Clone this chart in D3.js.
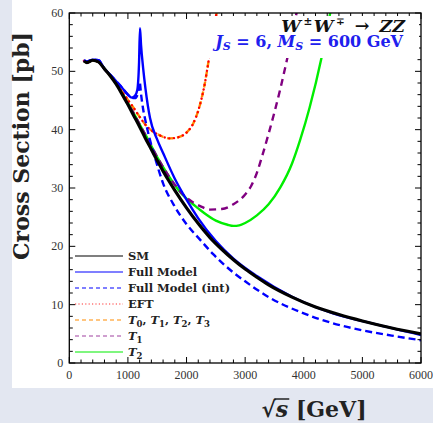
<!DOCTYPE html>
<html>
<head>
<meta charset="utf-8">
<script src="https://cdn.jsdelivr.net/npm/d3@7"></script>
<style>
  html, body { margin: 0; padding: 0; background: #e3e7f1; }
  svg { display: block; }
</style>
</head>
<body>
<svg id="chart" width="433" height="423"></svg>
<script>
// Cross section vs sqrt(s) for W±W∓ → ZZ, spin-6 resonance at 600 GeV

const xTicks = [0, 1000, 2000, 3000, 4000, 5000, 6000];
const yTicks = [0, 10, 20, 30, 40, 50, 60];

// Standard Model
const smX = [250, 300, 400, 500, 600, 700, 800, 900, 1000, 1100, 1200, 1300, 1400, 1500, 1600, 1700, 1800, 2000, 2200, 2400, 2600, 2800, 3000, 3200, 3400, 3800, 4200, 4600, 5000, 5500, 6000];
const smY = [51.8, 51.5, 51.9, 51.6, 50.4, 49.2, 47.8, 46.1, 44.3, 42.4, 40.5, 38.5, 36.6, 34.7, 32.9, 31.2, 29.6, 26.6, 23.9, 21.5, 19.5, 17.7, 16.1, 14.7, 13.4, 11.3, 9.6, 8.3, 7.2, 6.0, 5.0];

// Full model
const fullX = [250, 300, 400, 500, 600, 700, 800, 900, 1000, 1065, 1120, 1160, 1190, 1206, 1224, 1260, 1300, 1377, 1500, 1600, 1800, 2000, 2200, 2500, 2800, 3200, 3800, 4500, 5200, 6000];
const fullY = [51.9, 51.7, 52.0, 51.9, 50.4, 49.4, 48.3, 47.2, 46.0, 45.5, 45.8, 46.8, 51.5, 57.4, 54.5, 50.5, 47.0, 42.0, 38.3, 36.0, 31.6, 28.0, 24.8, 20.9, 17.9, 14.9, 11.35, 8.5, 6.7, 4.8];

// Full model, interference only
const intX = [250, 300, 400, 500, 600, 700, 800, 900, 1000, 1065, 1120, 1170, 1200, 1225, 1260, 1300, 1377, 1450, 1600, 1800, 2000, 2234, 2450, 2800, 3000, 3400, 4000, 4500, 5000, 5500, 6000];
const intY = [51.9, 51.7, 52.0, 51.9, 50.4, 49.4, 48.3, 47.2, 46.0, 45.5, 45.4, 46.2, 48.2, 46.0, 43.5, 41.5, 38.2, 35.6, 30.8, 26.8, 23.8, 21.1, 18.7, 15.5, 14.0, 11.3, 8.5, 6.8, 5.6, 4.7, 3.9];

// Effective field theory (shared by the T0..T3 curve)
const eftX = [250, 300, 400, 500, 600, 700, 800, 900, 1000, 1100, 1200, 1321, 1400, 1548, 1720, 1889, 2000, 2116, 2230, 2300, 2390, 2450, 2520];
const eftY = [51.8, 51.5, 51.9, 51.6, 50.4, 49.2, 47.9, 46.5, 45.1, 43.7, 42.2, 40.6, 39.9, 39.0, 38.5, 38.8, 39.5, 41.1, 44.3, 47.3, 52.6, 56.2, 60.5];

// T1 only
const t1X = [250, 300, 400, 500, 600, 700, 800, 900, 1000, 1100, 1200, 1300, 1500, 1700, 1900, 2100, 2234, 2400, 2600, 2800, 3000, 3100, 3200, 3300, 3400, 3500, 3600, 3700, 3800, 3880];
const t1Y = [51.8, 51.5, 51.9, 51.6, 50.5, 49.3, 47.9, 46.3, 44.6, 42.8, 40.9, 39.1, 35.3, 32.0, 29.3, 27.6, 26.9, 26.3, 26.4, 27.2, 28.9, 30.3, 32.6, 35.8, 39.3, 43.0, 47.0, 51.4, 56.0, 60.2];

// T2 only
const t2X = [250, 300, 400, 500, 600, 700, 800, 900, 1000, 1100, 1200, 1300, 1500, 1700, 1900, 2100, 2200, 2300, 2500, 2700, 2800, 2900, 3000, 3200, 3400, 3600, 3800, 3937, 4100, 4300, 4460];
const t2Y = [51.8, 51.5, 51.9, 51.6, 50.5, 49.3, 47.9, 46.3, 44.6, 42.8, 40.9, 39.1, 35.3, 32.0, 29.2, 27.3, 26.5, 25.7, 24.4, 23.7, 23.5, 23.6, 24.0, 25.3, 27.2, 30.1, 34.2, 38.2, 43.8, 52.2, 60.5];

const svg = d3.select("#chart");
const W = 433, H = 423;
const plot = { left: 69.3, right: 421, top: 13, bottom: 363 };

// white panel
svg.append("rect").attr("x", 12).attr("y", 0).attr("width", W - 12).attr("height", 388).attr("fill", "#ffffff");

const x = d3.scaleLinear().domain([0, 6000]).range([plot.left, plot.right]);
const y = d3.scaleLinear().domain([0, 60]).range([plot.bottom, plot.top]);

const serif = "'Liberation Serif', 'DejaVu Serif', serif";
const wide = "'DejaVu Serif', serif";

svg.append("clipPath").attr("id", "clip")
  .append("rect").attr("x", plot.left).attr("y", plot.top)
  .attr("width", plot.right - plot.left).attr("height", plot.bottom - plot.top);

const g = svg.append("g").attr("clip-path", "url(#clip)");

const line = d3.line().x(d => x(d[0])).y(d => y(d[1])).curve(d3.curveMonotoneX);
const pts = (xs, ys) => xs.map((v, i) => [v, ys[i]]);

const series = [
  { xs: t2X, ys: t2Y, color: "#00ee00", width: 2.4, dash: null },
  { xs: t1X, ys: t1Y, color: "#800080", width: 2.4, dash: "7,5" },
  { xs: eftX, ys: eftY, color: "#ff8c00", width: 2.4, dash: "6,4" },
  { xs: eftX, ys: eftY, color: "#ff0000", width: 2.4, dash: "0.1,4.6", cap: "round" },
  { xs: intX, ys: intY, color: "#0000ff", width: 2.4, dash: "7,4" },
  { xs: fullX, ys: fullY, color: "#0000ff", width: 2.4, dash: null },
  { xs: smX, ys: smY, color: "#000000", width: 3.2, dash: null }
];

series.forEach(s => {
  g.append("path")
    .datum(pts(s.xs, s.ys))
    .attr("d", line)
    .attr("fill", "none")
    .attr("stroke", s.color)
    .attr("stroke-width", s.width)
    .attr("stroke-dasharray", s.dash)
    .attr("stroke-linecap", s.cap || "butt")
    .attr("stroke-linejoin", "round");
});

// frame with inward ticks on all sides
const frame = svg.append("g");
const xMinor = d3.range(0, 6001, 200);
const yMinor = d3.range(0, 61, 2);
xMinor.forEach(v => {
  const len = v % 1000 === 0 ? 6 : 3.5;
  frame.append("line").attr("x1", x(v)).attr("x2", x(v)).attr("y1", plot.bottom).attr("y2", plot.bottom - len)
    .attr("stroke", "#000").attr("stroke-width", 1);
  frame.append("line").attr("x1", x(v)).attr("x2", x(v)).attr("y1", plot.top).attr("y2", plot.top + len)
    .attr("stroke", "#000").attr("stroke-width", 1);
});
yMinor.forEach(v => {
  const len = v % 10 === 0 ? 6 : 3.5;
  frame.append("line").attr("y1", y(v)).attr("y2", y(v)).attr("x1", plot.left).attr("x2", plot.left + len)
    .attr("stroke", "#000").attr("stroke-width", 1);
  frame.append("line").attr("y1", y(v)).attr("y2", y(v)).attr("x1", plot.right).attr("x2", plot.right - len)
    .attr("stroke", "#000").attr("stroke-width", 1);
});
frame.append("rect").attr("x", plot.left).attr("y", plot.top)
  .attr("width", plot.right - plot.left).attr("height", plot.bottom - plot.top)
  .attr("fill", "none").attr("stroke", "#000").attr("stroke-width", 1.3);

// tick labels
svg.append("g").selectAll("text").data(xTicks).join("text")
  .attr("x", d => x(d)).attr("y", plot.bottom + 16)
  .attr("text-anchor", "middle").attr("font-family", serif).attr("font-size", 12)
  .attr("fill", "#333").text(d => d);
svg.append("g").selectAll("text").data(yTicks).join("text")
  .attr("x", plot.left - 6).attr("y", d => y(d) + 4)
  .attr("text-anchor", "end").attr("font-family", serif).attr("font-size", 12)
  .attr("fill", "#333").text(d => d);

// process / model label with white background
svg.append("rect").attr("x", 205).attr("y", 16).attr("width", 214).attr("height", 42).attr("fill", "#fff");

// first line laid out piece by piece from the right edge
const procParts = [
  { t: "W", it: true, size: 17.5, rise: 0, gap: 0 },
  { t: "±", it: false, size: 10.5, rise: 7, gap: 2.5 },
  { t: "W", it: true, size: 17.5, rise: 0, gap: 1.5 },
  { t: "∓", it: false, size: 10.5, rise: 7, gap: 2.5 },
  { t: "→", it: false, size: 17.5, rise: 0, gap: 10 },
  { t: "ZZ", it: true, size: 17.5, rise: 0, gap: 10 }
];
const procG = svg.append("g");
const procNodes = procParts.map(p => procG.append("text")
  .attr("font-family", wide).attr("font-weight", "bold").attr("font-size", p.size)
  .attr("font-style", p.it ? "italic" : "normal").attr("fill", "#111")
  .attr("y", 32 - p.rise).text(p.t));
let cursor = 405;
for (let i = procParts.length - 1; i >= 0; i--) {
  const w = procNodes[i].node().getComputedTextLength();
  cursor -= w;
  procNodes[i].attr("x", cursor);
  cursor -= procParts[i].gap;
}

const t2 = svg.append("text").attr("x", 403).attr("y", 46.5).attr("text-anchor", "end")
  .attr("font-family", wide).attr("font-weight", "bold").attr("font-size", 16).attr("fill", "#2020ee");
t2.append("tspan").attr("font-style", "italic").text("J");
t2.append("tspan").attr("font-style", "italic").attr("dy", 3).attr("font-size", 11).text("S");
t2.append("tspan").attr("dy", -3).text(" = 6, ");
t2.append("tspan").attr("font-style", "italic").text("M");
t2.append("tspan").attr("font-style", "italic").attr("dy", 3).attr("font-size", 11).text("S");
t2.append("tspan").attr("dy", -3).text(" = 600 GeV");

// legend
const legend = [
  { label: [["SM"]], color: "#000", dash: null },
  { label: [["Full Model"]], color: "#0000ff", dash: null },
  { label: [["Full Model (int)"]], color: "#0000ff", dash: "4,3" },
  { label: [["EFT"]], color: "#ff3333", dash: "1.2,2.2" },
  { label: [["T", "i"], ["0", "sub"], [", "], ["T", "i"], ["1", "sub"], [", "], ["T", "i"], ["2", "sub"], [", "], ["T", "i"], ["3", "sub"]], color: "#ff8c00", dash: "4,3" },
  { label: [["T", "i"], ["1", "sub"]], color: "#a040a0", dash: "4,3" },
  { label: [["T", "i"], ["2", "sub"]], color: "#00ee00", dash: null }
];
const legY0 = 256, legStep = 16;
legend.forEach((d, i) => {
  const yy = legY0 + i * legStep;
  svg.append("line").attr("x1", 75).attr("x2", 123).attr("y1", yy).attr("y2", yy)
    .attr("stroke", d.color).attr("stroke-width", 1.2).attr("stroke-dasharray", d.dash);
  const t = svg.append("text").attr("x", 128).attr("y", yy + 4.3)
    .attr("font-family", wide).attr("font-weight", "bold").attr("font-size", 11.5).attr("fill", "#222");
  let sub = false;
  d.label.forEach(p => {
    const ts = t.append("tspan").text(p[0]);
    if (p[1] === "i") ts.attr("font-style", "italic");
    if (p[1] === "sub") { ts.attr("font-size", 8.5).attr("dy", 3); sub = true; }
    else if (sub) { ts.attr("dy", -3); sub = false; }
  });
});

// axis titles
svg.append("text")
  .attr("transform", "translate(29,146) rotate(-90)")
  .attr("text-anchor", "middle").attr("font-family", wide).attr("font-weight", "bold")
  .attr("font-size", 22).attr("fill", "#222").text("Cross Section [pb]");

const xl = svg.append("text").attr("x", 314).attr("y", 417).attr("text-anchor", "middle")
  .attr("font-family", wide).attr("font-weight", "bold").attr("font-size", 22).attr("fill", "#222");
xl.append("tspan").text("√");
xl.append("tspan").attr("font-style", "italic").text("s");
xl.append("tspan").text(" [GeV]");
// overline of the square root
const node = xl.node();
const r0 = node.getExtentOfChar(0), r1 = node.getExtentOfChar(1);
svg.append("line").attr("x1", r0.x + r0.width - 1.5).attr("x2", r1.x + r1.width + 1)
  .attr("y1", r0.y + 3).attr("y2", r0.y + 3).attr("stroke", "#222").attr("stroke-width", 1.5);
</script>
</body>
</html>
